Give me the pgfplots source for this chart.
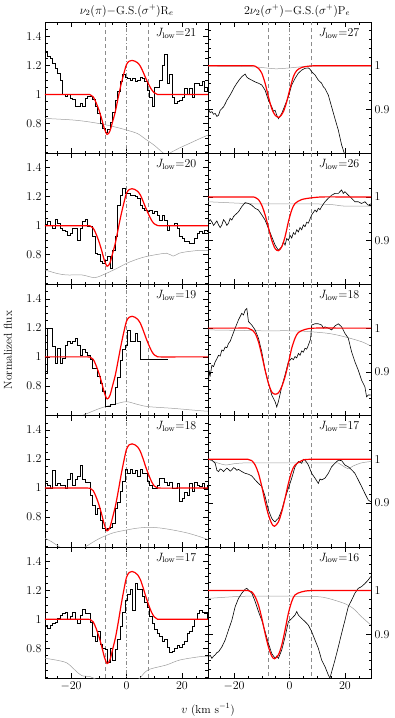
\documentclass[border=0pt]{standalone}
\usepackage{pgfplots}
\pgfplotsset{compat=1.18}
\definecolor{lgray}{gray}{0.62}
\definecolor{vgray}{gray}{0.55}
\newcommand{\fs}{\fontsize{11.5}{13}\selectfont}
\pgfplotsset{
  base/.style={scale only axis, width=163pt, height=131.2pt, anchor=north west,
    font=\fs,
    xmin=-29.4, xmax=29.4, xtick={-20,0,20}, minor xtick={-25,-15,-10,-5,5,10,15,25},
    tick align=inside, major tick length=5pt, minor tick length=2.5pt,
    axis line style={line width=0.6pt}, every tick/.style={black, line width=0.5pt},
    xticklabels={}},
  leftcol/.style={base, ymin=0.595, ymax=1.5, ytick={0.8,1,1.2,1.4},
    minor ytick={0.6,0.65,0.7,0.75,0.85,0.9,0.95,1.05,1.1,1.15,1.25,1.3,1.35,1.45},
    yticklabel pos=left},
  rightcol/.style={base, ymin=0.8, ymax=1.1, ytick={0.9,1},
    minor ytick={0.82,0.84,0.86,0.88,0.92,0.94,0.96,0.98,1.02,1.04,1.06,1.08},
    yticklabel pos=right},
  bottomrow/.style={xticklabels={$-20$,$0$,$20$}},
  hist/.style={black, line width=0.6pt, const plot},
  spec/.style={black, line width=0.6pt},
  model/.style={red, line width=1.2pt, smooth, tension=0.5},
  noise/.style={lgray, line width=0.5pt, smooth},
}
\newcommand{\vl}{%
  \addplot[vgray, line width=0.5pt, dash pattern=on 4pt off 3pt] coordinates {(-7.8,0.5) (-7.8,1.6)};
  \addplot[vgray, line width=0.5pt, dash pattern=on 4pt off 2pt on 1pt off 2pt] coordinates {(0,0.5) (0,1.6)};
  \addplot[vgray, line width=0.5pt, dash pattern=on 4pt off 3pt] coordinates {(7.8,0.5) (7.8,1.6)};}
\newcommand{\jl}[1]{\node[anchor=north east, inner sep=0pt] at (rel axis cs:0.93,0.955) {$J_{\mathrm{low}}{=}#1$};}
\begin{document}
\begin{tikzpicture}
\useasboundingbox (-45pt,-696pt) rectangle (350pt,22pt);
\node[font=\fs] at (81.7pt,11pt) {$\nu_2(\pi)-$G.S.$(\sigma^+)$R$_e$};
\node[font=\fs] at (252pt,11pt) {$2\nu_2(\sigma^+)-$G.S.$(\sigma^+)$P$_e$};
\node[font=\fs, rotate=90] at (-37pt,-328pt) {Normalized flux};
\node[font=\fs] at (163pt,-688pt) {$v$ (km s$^{-1}$)};

% ---------------- Left column ----------------
\begin{axis}[leftcol, at={(0pt,0pt)}]
\vl
\addplot[noise] coordinates {(-29.4,0.835) (-20,0.825) (-15,0.815) (-10,0.80) (-5,0.78) (0,0.755) (4,0.73) (7,0.69) (10,0.65) (13,0.60) (14.2,0.585) (15.5,0.595) (19,0.63) (23,0.665) (26.4,0.695) (29.4,0.72)};
\addplot[hist] coordinates {(-29.4,1.29) (-28.5,1.26) (-27.6,1.25) (-26.7,1.215) (-25.8,1.18) (-24.9,1.146) (-24.0,1.10) (-23.1,1.0) (-22.2,0.985) (-21.3,1.0) (-20.4,0.975) (-19.5,0.97) (-18.6,0.92) (-17.7,0.92) (-16.8,0.94) (-15.9,0.92) (-15.0,0.975) (-14.1,0.99) (-13.2,0.99) (-12.3,0.97) (-11.4,0.92) (-10.5,0.87) (-9.6,0.80) (-8.7,0.765) (-7.8,0.74) (-6.9,0.76) (-6.0,0.81) (-5.1,0.88) (-4.2,0.96) (-3.3,1.02) (-2.4,1.09) (-1.5,1.14) (-0.6,1.12) (0.3,1.11) (1.2,1.10) (2.1,1.11) (3.0,1.09) (3.9,1.10) (4.8,1.12) (5.7,1.11) (6.6,1.09) (7.5,1.03) (8.4,0.98) (9.3,0.92) (10.2,1.05) (11.1,1.05) (12.0,1.10) (12.9,1.20) (13.8,1.28) (14.7,1.08) (15.6,1.14) (16.5,0.98) (17.4,0.94) (18.3,0.95) (19.2,0.96) (20.1,0.98) (21.0,1.04) (21.9,1.0) (22.8,1.04) (23.7,0.98) (24.6,1.08) (25.5,1.08) (26.4,1.06) (27.3,1.09) (28.2,1.02) (29.1,1.05) (29.4,1.05)};
\addplot[model] coordinates {(-29.4,1) (-20,1) (-14,1) (-13,0.997) (-12,0.9835) (-11,0.945) (-10,0.8955) (-9,0.835) (-8,0.766) (-7,0.725) (-6,0.747) (-5,0.813) (-4,0.8845) (-3,0.978) (-2,1.066) (-1,1.141) (0,1.207) (1,1.230) (2,1.235) (3,1.230) (4,1.219) (5,1.195) (6,1.155) (7,1.110) (8,1.0705) (9,1.035) (10,1.012) (11,1.002) (12,1) (20,1) (29.4,1)};
\jl{21}
\end{axis}

\begin{axis}[leftcol, at={(0pt,-131.2pt)}]
\vl
\addplot[noise] coordinates {(-29.4,0.695) (-25,0.67) (-21.6,0.66) (-16,0.66) (-11.4,0.642) (-7.2,0.672) (-3,0.71) (0,0.74) (4,0.77) (7.8,0.79) (14.4,0.81) (16.8,0.79) (19,0.81) (21.6,0.82) (26.4,0.83) (29.4,0.83)};
\addplot[hist] coordinates {(-29.4,1.012) (-28.5,1.028) (-27.6,1.0) (-26.7,0.982) (-25.8,1.046) (-24.9,1.016) (-24.0,0.982) (-23.1,0.970) (-22.2,0.959) (-21.3,0.936) (-20.4,0.947) (-19.5,0.982) (-18.6,0.982) (-17.7,0.901) (-16.8,0.982) (-15.9,1.028) (-15.0,1.046) (-14.1,0.993) (-13.2,0.993) (-12.3,0.924) (-11.4,0.809) (-10.5,0.803) (-9.6,0.752) (-8.7,0.74) (-7.8,0.763) (-6.9,0.786) (-6.0,0.706) (-5.1,0.832) (-4.2,0.924) (-3.3,1.143) (-2.4,1.212) (-1.5,1.258) (-0.6,1.223) (0.3,1.223) (1.2,1.212) (2.1,1.212) (3.0,1.2) (3.9,1.189) (4.8,1.143) (5.7,1.12) (6.6,1.108) (7.5,1.097) (8.4,1.108) (9.3,1.085) (10.2,1.097) (11.1,1.074) (12.0,1.039) (12.9,1.074) (13.8,1.039) (14.7,0.97) (15.6,1.005) (16.5,1.005) (17.4,1.016) (18.3,0.982) (19.2,0.924) (20.1,0.913) (21.0,0.89) (21.9,0.89) (22.8,0.878) (23.7,0.878) (24.6,0.913) (25.5,0.947) (26.4,0.96) (27.3,0.95) (28.2,0.97) (29.1,0.96) (29.4,0.96)};
\addplot[model] coordinates {(-29.4,1) (-20,1) (-14,1) (-13,0.997) (-12,0.983) (-11,0.944) (-10,0.894) (-9,0.832) (-8,0.762) (-7,0.72) (-6,0.742) (-5,0.810) (-4,0.882) (-3,0.978) (-2,1.071) (-1,1.153) (0,1.224) (1,1.250) (2,1.255) (3,1.250) (4,1.237) (5,1.212) (6,1.168) (7,1.120) (8,1.077) (9,1.038) (10,1.013) (11,1.003) (12,1) (20,1) (29.4,1)};
\jl{20}
\end{axis}

\begin{axis}[leftcol, at={(0pt,-262.4pt)}]
\vl
\addplot[noise] coordinates {(-29.4,0.55) (-20,0.57) (-16.2,0.594) (-9.6,0.645) (-4,0.675) (0,0.691) (4,0.672) (7.8,0.657) (16.8,0.645) (26.4,0.629) (29.4,0.625)};
\addplot[hist] coordinates {(-29.4,0.89) (-28.5,1.2) (-27.6,1.2) (-26.7,1.07) (-25.8,0.955) (-24.9,1.06) (-24.0,0.955) (-23.1,0.99) (-22.2,1.08) (-21.3,1.105) (-20.4,1.095) (-19.5,1.105) (-18.6,1.128) (-17.7,1.08) (-16.8,1.013) (-15.9,1.05) (-15.0,1.03) (-14.1,1.013) (-13.2,0.98) (-12.3,0.92) (-11.4,0.92) (-10.5,0.863) (-9.6,0.818) (-8.7,0.76) (-7.8,0.66) (-6.9,0.656) (-6.0,0.67) (-5.1,0.67) (-4.2,0.79) (-3.3,0.86) (-2.4,0.978) (-1.5,1.05) (-0.6,1.08) (0.3,1.185) (1.2,1.105) (2.1,1.11) (3.0,1.16) (3.9,1.105) (4.8,0.98) (15.0,0.98)};
\addplot[model] coordinates {(-29.4,1) (-20,1) (-14,1) (-13,0.997) (-12,0.983) (-11,0.942) (-10,0.890) (-9,0.826) (-8,0.754) (-7,0.71) (-6,0.733) (-5,0.803) (-4,0.878) (-3,0.977) (-2,1.078) (-1,1.168) (0,1.246) (1,1.274) (2,1.28) (3,1.274) (4,1.260) (5,1.232) (6,1.185) (7,1.132) (8,1.084) (9,1.042) (10,1.014) (11,1.003) (12,1) (20,1) (29.4,1)};
\jl{19}
\end{axis}

\begin{axis}[leftcol, at={(0pt,-393.6pt)}]
\vl
\addplot[noise] coordinates {(-29.4,0.654) (-27,0.63) (-24.6,0.60) (-22,0.57) (-18,0.56) (-14.4,0.60) (-10,0.65) (-5,0.69) (0,0.711) (4,0.724) (7.8,0.729) (12,0.725) (17,0.71) (22,0.69) (26.4,0.665) (29.4,0.645)};
\addplot[hist] coordinates {(-29.4,1.03) (-28.5,1.02) (-27.6,1.0) (-26.7,1.12) (-25.8,1.02) (-24.9,1.03) (-24.0,1.02) (-23.1,1.02) (-22.2,1.0) (-21.3,1.06) (-20.4,1.1) (-19.5,1.02) (-18.6,1.06) (-17.7,1.08) (-16.8,1.16) (-15.9,1.06) (-15.0,1.04) (-14.1,1.04) (-13.2,0.95) (-12.3,0.88) (-11.4,0.82) (-10.5,0.86) (-9.6,0.78) (-8.7,0.72) (-7.8,0.71) (-6.9,0.72) (-6.0,0.73) (-5.1,0.76) (-4.2,0.86) (-3.3,0.90) (-2.4,0.98) (-1.5,1.05) (-0.6,1.13) (0.3,1.10) (1.2,1.13) (2.1,1.10) (3.0,1.12) (3.9,1.08) (4.8,1.13) (5.7,1.10) (6.6,1.10) (7.5,1.05) (8.4,1.02) (9.3,1.0) (10.2,1.0) (11.1,1.02) (12.0,1.07) (12.9,1.07) (13.8,1.04) (14.7,1.02) (15.6,1.04) (16.5,1.0) (17.4,1.0) (18.3,1.03) (19.2,0.91) (20.1,0.93) (21.0,0.97) (21.9,0.95) (22.8,1.03) (23.7,0.98) (24.6,1.04) (25.5,1.02) (26.4,1.01) (27.3,1.03) (28.2,0.99) (29.1,1.02) (29.4,1.02)};
\addplot[model] coordinates {(-29.4,1) (-20,1) (-14,1) (-13,0.997) (-12,0.982) (-11,0.941) (-10,0.888) (-9,0.823) (-8,0.749) (-7,0.705) (-6,0.729) (-5,0.799) (-4,0.876) (-3,0.976) (-2,1.085) (-1,1.183) (0,1.268) (1,1.299) (2,1.305) (3,1.299) (4,1.284) (5,1.253) (6,1.201) (7,1.143) (8,1.092) (9,1.046) (10,1.015) (11,1.003) (12,1) (20,1) (29.4,1)};
\jl{18}
\end{axis}

\begin{axis}[leftcol, bottomrow, at={(0pt,-524.8pt)}]
\vl
\addplot[noise] coordinates {(-29.4,0.731) (-25.8,0.72) (-21.6,0.70) (-18.6,0.65) (-16.2,0.612) (-13.2,0.605) (-11.4,0.59) (-8,0.57) (0,0.55) (3,0.57) (4.8,0.594) (7.8,0.651) (14.4,0.685) (19.2,0.719) (26.4,0.742) (29.4,0.745)};
\addplot[hist] coordinates {(-29.4,0.96) (-28.5,0.94) (-27.6,0.96) (-26.7,0.97) (-25.8,0.98) (-24.9,1.01) (-24.0,1.03) (-23.1,1.04) (-22.2,1.05) (-21.3,1.0) (-20.4,1.02) (-19.5,1.05) (-18.6,1.0) (-17.7,0.97) (-16.8,1.03) (-15.9,1.07) (-15.0,1.04) (-14.1,1.04) (-13.2,0.98) (-12.3,0.88) (-11.4,0.85) (-10.5,0.92) (-9.6,0.83) (-8.7,0.80) (-7.8,0.79) (-6.9,0.70) (-6.0,0.80) (-5.1,0.72) (-4.2,0.79) (-3.3,0.86) (-2.4,0.95) (-1.5,1.05) (-0.6,1.13) (0.3,1.17) (1.2,1.21) (2.1,1.06) (3.0,1.25) (3.9,1.21) (4.8,1.21) (5.7,1.16) (6.6,1.12) (7.5,1.08) (8.4,1.02) (9.3,0.97) (10.2,0.93) (11.1,0.90) (12.0,0.88) (12.9,0.85) (13.8,0.86) (14.7,0.81) (15.6,0.77) (16.5,0.78) (17.4,0.80) (18.3,0.82) (19.2,0.81) (20.1,0.83) (21.0,0.85) (21.9,0.90) (22.8,0.92) (23.7,0.95) (24.6,1.0) (25.5,1.04) (26.4,1.06) (27.3,1.05) (28.2,1.04) (29.1,1.0) (29.4,1.0)};
\addplot[model] coordinates {(-29.4,1) (-20,1) (-14,1) (-13,0.997) (-12,0.982) (-11,0.939) (-10,0.884) (-9,0.817) (-8,0.741) (-7,0.695) (-6,0.719) (-5,0.793) (-4,0.872) (-3,0.976) (-2,1.092) (-1,1.198) (0,1.290) (1,1.323) (2,1.33) (3,1.323) (4,1.307) (5,1.274) (6,1.218) (7,1.155) (8,1.099) (9,1.050) (10,1.017) (11,1.003) (12,1) (20,1) (29.4,1)};
\jl{17}
\end{axis}

% ---------------- Right column ----------------
\begin{axis}[rightcol, at={(163pt,0pt)}]
\vl
\addplot[noise] coordinates {(-29.4,0.999) (-15,0.998) (-10,0.996) (-5,0.993) (0,0.995) (5,0.998) (10,0.999) (29.4,0.999)};
\addplot[spec] coordinates {(-29.2,0.9) (-28.6,0.893) (-28.0,0.895) (-27.4,0.889) (-26.8,0.891) (-26.2,0.884) (-25.6,0.887) (-25.0,0.898) (-24.4,0.902) (-23.8,0.906) (-23.2,0.913) (-22.6,0.921) (-21.7,0.93) (-20.8,0.94) (-19.9,0.951) (-19.0,0.96) (-18.1,0.968) (-17.2,0.975) (-16.6,0.978) (-16.0,0.981) (-15.4,0.974) (-14.8,0.971) (-13.6,0.967) (-12.4,0.963) (-11.2,0.96) (-10.0,0.956) (-8.8,0.944) (-7.6,0.921) (-6.4,0.906) (-5.8,0.896) (-5.2,0.898) (-4.6,0.887) (-4.0,0.879) (-3.4,0.885) (-2.8,0.891) (-1.6,0.91) (-0.4,0.929) (0.8,0.956) (2.0,0.971) (3.2,0.983) (4.4,0.99) (5.6,0.994) (6.8,0.995) (7.4,0.992) (8.0,0.986) (9.2,0.979) (10.4,0.967) (11.6,0.96) (12.2,0.952) (12.8,0.948) (14.0,0.933) (15.2,0.906) (16.4,0.879) (17.6,0.853) (18.8,0.819) (19.4,0.807) (20.0,0.795) (21.0,0.77) (23,0.72) (29.3,0.65)};
\addplot[model] coordinates {(-29.4,1) (-20,1) (-14,1) (-12.4,0.999) (-11.2,0.994) (-10,0.983) (-8.8,0.96) (-7.6,0.929) (-6.4,0.902) (-5.2,0.887) (-3.7,0.882) (-2.2,0.895) (-1,0.918) (0.2,0.948) (1.4,0.975) (2.6,0.989) (4.4,0.996) (6.8,0.999) (10,1) (20,1) (29.4,1)};
\jl{27}
\end{axis}

\begin{axis}[rightcol, at={(163pt,-131.2pt)}]
\vl
\addplot[noise] coordinates {(-29.4,0.989) (-16,0.985) (-10,0.984) (0,0.984) (10,0.984) (16,0.982) (20,0.979) (29.4,0.979)};
\addplot[spec] coordinates {(-29.2,0.943) (-28.6,0.948) (-28.0,0.943) (-27.4,0.935) (-26.8,0.94) (-26.2,0.945) (-25.6,0.936) (-25.0,0.93) (-24.4,0.936) (-23.8,0.948) (-23.2,0.943) (-22.6,0.935) (-22.0,0.94) (-21.4,0.951) (-20.8,0.947) (-20.2,0.955) (-19.6,0.959) (-18.4,0.966) (-17.2,0.978) (-16.0,0.987) (-14.8,0.985) (-13.6,0.981) (-12.4,0.974) (-11.2,0.97) (-10.0,0.959) (-8.8,0.947) (-7.6,0.928) (-6.4,0.909) (-5.2,0.89) (-4.0,0.878) (-2.8,0.886) (-2.2,0.897) (-1.6,0.89) (-1.0,0.905) (-0.4,0.901) (0.2,0.912) (0.8,0.906) (1.4,0.918) (2.0,0.914) (2.6,0.925) (3.2,0.92) (3.8,0.93) (4.4,0.925) (5.0,0.936) (5.6,0.932) (6.2,0.942) (6.8,0.94) (8.0,0.959) (9.2,0.97) (9.8,0.966) (10.4,0.974) (11.0,0.971) (11.6,0.978) (12.8,0.989) (14.0,0.997) (15.2,1.004) (16.4,1.008) (17.6,1.008) (18.8,1.016) (19.4,1.008) (20.0,1.012) (21.2,1.004) (22.4,0.997) (23.6,0.989) (24.8,0.989) (26.0,0.985) (27.2,0.989) (28.4,0.981) (29.3,0.984)};
\addplot[model] coordinates {(-29.4,1) (-20,1) (-14,1) (-12.4,0.999) (-11.2,0.994) (-10,0.981) (-8.8,0.959) (-7.6,0.93) (-6.4,0.901) (-5.2,0.882) (-4,0.877) (-2.8,0.886) (-1.6,0.909) (-0.4,0.943) (0.8,0.97) (2,0.985) (4.4,0.994) (8,0.998) (12,1) (20,1) (29.4,1)};
\jl{26}
\end{axis}

\begin{axis}[rightcol, at={(163pt,-262.4pt)}]
\vl
\addplot[noise] coordinates {(-29.4,0.996) (-20,0.995) (-10,0.994) (0,0.994) (5,0.993) (14,0.988) (20,0.98) (26,0.969) (29.4,0.959)};
\addplot[spec] coordinates {(-29.2,0.88) (-28.9,0.9) (-28.6,0.892) (-28.0,0.915) (-27.4,0.912) (-26.8,0.923) (-26.2,0.93) (-25.6,0.938) (-25.0,0.936) (-24.4,0.95) (-23.8,0.948) (-23.2,0.957) (-22.6,0.955) (-22.0,0.965) (-21.4,0.97) (-20.8,0.98) (-20.2,0.99) (-19.6,1.0) (-18.4,1.019) (-17.2,1.034) (-16.6,1.03) (-16.0,1.041) (-15.4,1.045) (-14.8,1.015) (-13.6,1.007) (-12.4,0.996) (-11.2,0.977) (-10.0,0.946) (-8.8,0.904) (-7.6,0.874) (-6.4,0.847) (-5.2,0.832) (-4.6,0.82) (-4.0,0.832) (-2.8,0.866) (-1.6,0.893) (-0.4,0.923) (0.8,0.931) (1.4,0.928) (2.0,0.935) (2.6,0.932) (3.2,0.942) (3.8,0.938) (4.4,0.948) (5.0,0.945) (5.6,0.954) (6.2,0.952) (6.8,0.961) (7.6,0.975) (8.0,1.007) (9.2,1.01) (10.4,1.01) (11.6,1.007) (12.2,1.0) (12.8,1.003) (14.0,1.0) (15.2,0.996) (16.4,1.005) (17.6,1.01) (18.8,1.003) (20.0,0.988) (21.2,0.977) (22.4,0.946) (23.6,0.923) (24.8,0.904) (26.0,0.881) (27.2,0.866) (27.8,0.843) (28.4,0.847) (29.3,0.847)};
\addplot[model] coordinates {(-29.4,1) (-20,1) (-15,1) (-13.6,0.996) (-12.4,0.988) (-11.2,0.969) (-10,0.938) (-8.8,0.904) (-7.6,0.874) (-6.4,0.854) (-5.2,0.849) (-4,0.852) (-2.8,0.866) (-1.6,0.889) (-0.4,0.92) (0.8,0.954) (2,0.977) (3.2,0.99) (5.6,0.997) (9,1) (20,1) (29.4,1)};
\jl{18}
\end{axis}

\begin{axis}[rightcol, at={(163pt,-393.6pt)}]
\vl
\addplot[noise] coordinates {(-29.4,1.0) (-26,0.992) (-23,0.987) (-20,0.99) (-15,0.992) (0,0.992) (16,0.992) (18,0.99) (21,0.979) (23,0.985) (26,0.992) (29.4,0.995)};
\addplot[spec] coordinates {(-29.2,1.0) (-28.0,0.998) (-26.8,0.991) (-26.2,0.975) (-25.6,0.972) (-25.0,0.978) (-24.4,0.976) (-23.8,0.972) (-23.2,0.976) (-22.6,0.98) (-22.0,0.977) (-21.4,0.973) (-20.8,0.976) (-20.2,0.981) (-19.6,0.979) (-19.0,0.975) (-18.4,0.977) (-17.2,0.972) (-16.0,0.968) (-14.8,0.966) (-13.6,0.962) (-12.4,0.953) (-11.2,0.945) (-10.0,0.938) (-8.8,0.915) (-7.6,0.884) (-6.4,0.865) (-5.8,0.86) (-5.2,0.857) (-4.6,0.862) (-4.0,0.865) (-2.8,0.884) (-1.6,0.911) (-0.4,0.934) (0.8,0.957) (2.0,0.983) (3.2,0.995) (4.4,0.991) (5.0,1.0) (5.6,0.998) (6.2,0.993) (6.8,0.987) (8.0,0.968) (9.2,0.957) (10.4,0.945) (11.0,0.955) (11.6,0.953) (12.8,0.957) (14.0,0.968) (15.2,0.983) (16.4,0.991) (17.6,0.998) (18.8,0.997) (20.0,0.987) (21.2,0.983) (22.4,0.976) (23.6,0.968) (24.8,0.953) (26.0,0.938) (27.2,0.922) (28.4,0.907) (29.3,0.903)};
\addplot[model] coordinates {(-29.4,1) (-20,1) (-15,1) (-13.6,0.997) (-12.4,0.987) (-11.2,0.968) (-10,0.938) (-8.8,0.903) (-7.6,0.873) (-6.4,0.853) (-5.4,0.847) (-4,0.857) (-2.8,0.88) (-1.6,0.911) (-0.4,0.945) (0.8,0.972) (2,0.987) (4.4,0.997) (7,1) (20,1) (29.4,1)};
\jl{17}
\end{axis}

\begin{axis}[rightcol, bottomrow, at={(163pt,-524.8pt)}]
\vl
\addplot[noise] coordinates {(-29.4,0.982) (-20,0.986) (-15,0.987) (0,0.987) (10,0.986) (14,0.982) (20,0.97) (23,0.959) (26,0.94) (29.4,0.921)};
\addplot[spec] coordinates {(-29.2,0.849) (-28.6,0.852) (-28.0,0.845) (-27.4,0.85) (-26.8,0.853) (-26.2,0.858) (-25.6,0.86) (-24.4,0.871) (-23.2,0.887) (-22.0,0.91) (-20.8,0.932) (-19.6,0.963) (-18.4,0.982) (-17.2,0.994) (-16.0,1.003) (-15.4,1.005) (-14.8,1.001) (-13.6,0.994) (-12.4,0.975) (-11.2,0.952) (-10.0,0.932) (-8.8,0.906) (-7.6,0.879) (-6.4,0.856) (-5.2,0.845) (-4.6,0.85) (-4.0,0.845) (-2.8,0.864) (-1.6,0.894) (-0.4,0.929) (0.8,0.936) (2.0,0.944) (2.6,0.952) (3.2,0.944) (4.4,0.936) (5.6,0.929) (6.8,0.921) (8.0,0.906) (9.2,0.887) (10.4,0.868) (11.6,0.841) (12.8,0.826) (14.0,0.807) (14.6,0.8) (15.2,0.814) (16.4,0.841) (17.6,0.871) (18.8,0.902) (20.0,0.932) (21.2,0.963) (22.4,0.978) (23.6,0.994) (24.8,1.005) (26.0,1.009) (27.2,1.016) (28.4,1.024) (29.3,1.032)};
\addplot[model] coordinates {(-29.4,1) (-20,1) (-15,1) (-13.6,0.997) (-12.4,0.986) (-11.2,0.967) (-10,0.937) (-8.8,0.902) (-7.6,0.871) (-6.4,0.85) (-5.4,0.844) (-4,0.853) (-2.8,0.875) (-1.6,0.91) (-0.4,0.948) (0.8,0.975) (2,0.99) (4.4,0.997) (8,1) (20,1) (29.4,1)};
\jl{16}
\end{axis}
\end{tikzpicture}
\end{document}
